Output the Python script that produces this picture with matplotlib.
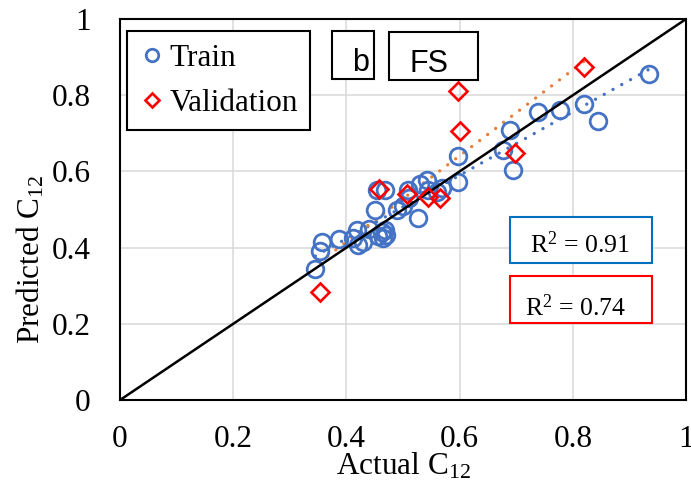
import numpy as np
import matplotlib.pyplot as plt
from matplotlib.patches import Rectangle

train_actual = [0.345, 0.353, 0.357, 0.386, 0.412, 0.418, 0.420, 0.430, 0.440, 0.455,
                0.462, 0.465, 0.468, 0.470, 0.450, 0.454, 0.468, 0.490, 0.500, 0.527,
                0.509, 0.510, 0.530, 0.542, 0.544, 0.560, 0.569, 0.597, 0.597, 0.677,
                0.689, 0.694, 0.739, 0.777, 0.819, 0.845, 0.935]
train_pred = [0.345, 0.390, 0.416, 0.422, 0.425, 0.445, 0.407, 0.415, 0.450, 0.430,
              0.440, 0.425, 0.445, 0.432, 0.500, 0.551, 0.551, 0.498, 0.510, 0.478,
              0.551, 0.530, 0.568, 0.577, 0.551, 0.545, 0.556, 0.572, 0.640, 0.655,
              0.708, 0.604, 0.757, 0.762, 0.778, 0.732, 0.857]

val_actual = [0.353, 0.458, 0.507, 0.544, 0.565, 0.597, 0.601, 0.697, 0.820]
val_pred = [0.283, 0.555, 0.540, 0.533, 0.530, 0.811, 0.705, 0.648, 0.874]

ticks = [0, 0.2, 0.4, 0.6, 0.8, 1]
tick_labels = ['0', '0.2', '0.4', '0.6', '0.8', '1']
r2_train = '0.91'
r2_val = '0.74'

blue = '#4472C4'
orange = '#ED7D31'

plt.rcParams['font.family'] = 'Liberation Serif'
plt.rcParams['mathtext.fontset'] = 'custom'
plt.rcParams['mathtext.rm'] = 'Liberation Serif'
plt.rcParams['mathtext.it'] = 'Liberation Serif:italic'

fig = plt.figure(figsize=(6.91, 4.88), dpi=100)
ax = fig.add_axes([0.1737, 0.1803, 0.8191, 0.7807])

# 1:1 line
ax.plot([0, 1], [0, 1], color='black', lw=1.8, zorder=4)

# linear trendlines (dotted, like excel)
p = np.polyfit(train_actual, train_pred, 1)
xs = np.array([min(train_actual), max(train_actual)])
ax.plot(xs, np.polyval(p, xs), color=blue, lw=2.4, ls=(0, (0.01, 3.0)),
        dash_capstyle='round', zorder=3)
p = np.polyfit(val_actual, val_pred, 1)
xs = np.array([min(val_actual), max(val_actual)])
ax.plot(xs, np.polyval(p, xs), color=orange, lw=2.4, ls=(0, (0.01, 3.0)),
        dash_capstyle='round', zorder=3)

ax.plot(train_actual, train_pred, 'o', ms=12, mfc='none', mec=blue, mew=2,
        label='Train', zorder=3.5)
ax.plot(val_actual, val_pred, 'D', ms=9, mfc='none', mec='red', mew=1.9,
        label='Validation', zorder=5)

ax.set_xlim(0, 1)
ax.set_ylim(0, 1)
ax.set_xticks(ticks)
ax.set_xticklabels(tick_labels)
ax.set_yticks(ticks)
ax.set_yticklabels(tick_labels)
ax.tick_params(axis='both', length=0, labelsize=22.5)
ax.tick_params(axis='x', pad=18)
ax.tick_params(axis='y', pad=21)
ax.grid(color='#D9D9D9', lw=1.1)
ax.set_axisbelow(True)
for s in ax.spines.values():
    s.set_color('black')
    s.set_linewidth(1.5)

ax.set_xlabel('Actual C$_{12}$', fontsize=22.5, labelpad=-2)
ax.set_ylabel('Predicted C$_{12}$', fontsize=22.5)
ax.yaxis.set_label_coords(-0.13, 0.37)

leg = ax.legend(loc='upper left', bbox_to_anchor=(0.0124, 0.9685), borderaxespad=0,
                fontsize=22.5, markerscale=0.75, handlelength=0.8, handletextpad=0.15,
                borderpad=0.4, labelspacing=0.52, fancybox=False, framealpha=1)
leg.get_frame().set_edgecolor('black')
leg.get_frame().set_linewidth(1.5)

# label boxes
ax.add_patch(Rectangle((0.3746, 0.8425), 0.0742, 0.126, transform=ax.transAxes,
                       fill=True, fc='white', ec='black', lw=1.5, zorder=6))
ax.text(0.41, 0.8635, 'b', transform=ax.transAxes, family='Liberation Sans',
        fontsize=22, va='baseline', zorder=7)
ax.add_patch(Rectangle((0.4753, 0.840), 0.1572, 0.126, transform=ax.transAxes,
                       fill=True, fc='white', ec='black', lw=1.5, zorder=6))
ax.text(0.512, 0.861, 'FS', transform=ax.transAxes, family='Liberation Sans',
        fontsize=22, va='baseline', zorder=7)

# R2 boxes
ax.add_patch(Rectangle((0.689, 0.360), 0.251, 0.120, transform=ax.transAxes,
                       fc='white', ec='#0070C0', lw=1.5, zorder=6))
ax.text(0.724, 0.386, 'R$^2$ = ' + r2_train, transform=ax.transAxes,
        fontsize=18.5, va='baseline', zorder=7)
ax.add_patch(Rectangle((0.689, 0.202), 0.251, 0.123, transform=ax.transAxes,
                       fc='white', ec='red', lw=1.5, zorder=6))
ax.text(0.716, 0.220, 'R$^2$ = ' + r2_val, transform=ax.transAxes,
        fontsize=18.5, va='baseline', zorder=7)

fig.savefig('out.png', dpi=100)
